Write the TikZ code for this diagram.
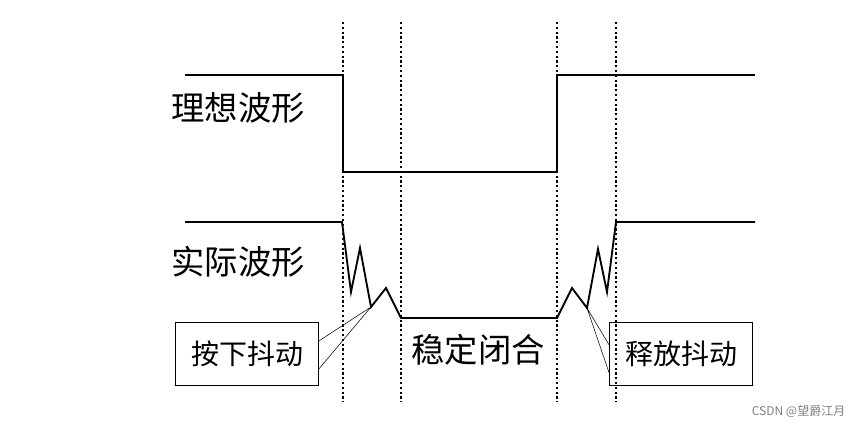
\documentclass[tikz,border=0pt]{standalone}
\usepackage{fontspec}
\newfontfamily\cjk{Noto Sans CJK SC}
\usetikzlibrary{positioning}
\newlength{\pxu}
\setlength{\pxu}{0.75pt}
\tikzset{
    wave/.style={line width=1.4pt, line join=miter},
    mark line/.style={dash pattern=on 1.6pt off 2pt, line width=1.6pt},
    label text/.style={font=\cjk\fontsize{25}{25}\selectfont, inner sep=0pt},
    call box/.style={draw, line width=0.5pt, minimum width=143\pxu, minimum height=63\pxu,
        font=\cjk\fontsize{21}{21}\selectfont, inner sep=0pt}}
\begin{document}
\begin{tikzpicture}[x=0.75pt, y=-0.75pt]
\useasboundingbox (0,0) rectangle (865,425);
% dotted marks
\foreach \xm in {343,401,557,616}
    \draw[mark line] (\xm,22) -- (\xm,402);
% ideal waveform
\draw[wave] (185,75) -- (343,75) -- (343,172) -- (557,172) -- (557,75) -- (755,75);
% actual waveform
\draw[wave] (185,222) -- (342,222) -- (351,292) -- (360,248) -- (371,307) -- (386,288)
    -- (401,318) -- (557,318) -- (572,288) -- (587,308) -- (598,249) -- (607,292)
    -- (616,222) -- (755,222);
\coordinate (press) at (371,307);
\coordinate (release) at (587,308);
% labels
\node[label text] (ideal) at (238,108) {理想波形};
\node[label text] (actual) at (238,262) {实际波形};
\node[label text] (stable) at (478,350) {稳定闭合};
\node[call box] (pressbox) at (247,354) {按下抖动};
\node[call box] (releasebox) at (681,354) {释放抖动};
\draw[line width=0.4pt] ([yshift=-15\pxu]pressbox.east) -- (press) -- ([yshift=13\pxu]pressbox.east);
\draw[line width=0.4pt] ([yshift=-19\pxu]releasebox.west) -- (release) -- ([yshift=9\pxu]releasebox.west);
\node[font=\cjk\fontsize{9}{9}\selectfont, text=gray, anchor=east] (mark) at (850,411) {CSDN @望爵江月};
\end{tikzpicture}
\end{document}
